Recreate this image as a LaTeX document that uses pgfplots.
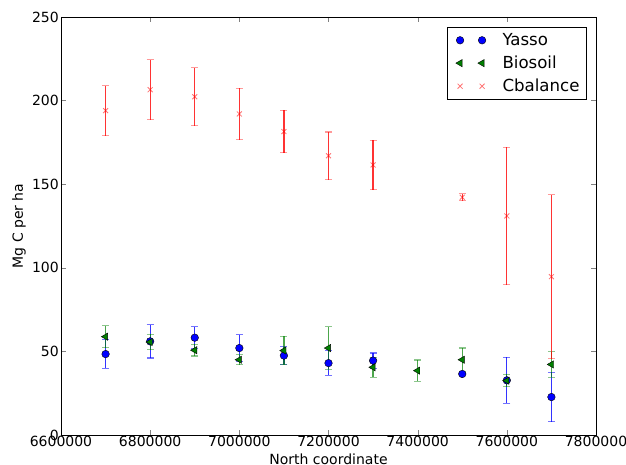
\documentclass[border=0pt]{standalone}
\usepackage{fontspec}
\setmainfont{DejaVu Sans}
\usepackage{pgfplots}
\usepackage{pgfplotstable}
\pgfplotsset{compat=1.18}
\pgfplotstableread{
x y e
6700000 48.4 8.5
6800000 56.0 10
6900000 58.2 6.6
7000000 52.0 8
7100000 47.5 5.3
7200000 43.0 7.4
7300000 44.5 4.5
7500000 36.5 0.5
7600000 32.7 13.7
7700000 22.7 14.8
}\yasso
\pgfplotstableread{
x y e
6700000 58.8 6.6
6800000 55.6 4.6
6900000 50.7 3.5
7000000 45.0 3
7100000 50.5 8.5
7200000 52.0 12.7
7300000 40.5 6
7400000 38.5 6.3
7500000 45.0 7
7600000 32.5 3.7
7700000 42.2 7.6
}\biosoil
\pgfplotstableread{
x y e
6700000 194.0 15
6800000 206.5 18
6900000 202.3 17.3
7000000 192.0 15.4
7100000 181.5 12.7
7200000 167.0 14.2
7300000 161.5 14.7
7500000 142.2 2
7600000 131.0 41
7700000 94.7 49
}\cbal
\definecolor{mgreen}{rgb}{0,0.5,0}
\begin{document}
\begin{tikzpicture}[x=1pt,y=1pt]
\path[use as bounding box] (-61,-30) rectangle (565,435);
\begin{axis}[
 at={(0,0)}, anchor=south west,
 scale only axis, width=535pt, height=418pt,
 xmin=6600000, xmax=7800000, ymin=0, ymax=250,
 xtick={6600000,6800000,7000000,7200000,7400000,7600000,7800000},
 ytick={0,50,100,150,200,250},
 scaled x ticks=false, scaled y ticks=false,
 /pgf/number format/assume math mode=true,
 tick label style={font=\fontsize{14}{16}\selectfont},
 xticklabel style={inner sep=1pt, /pgf/number format/.cd, fixed, 1000 sep={}},
 yticklabel style={inner sep=2pt},
 label style={font=\fontsize{14}{16}\selectfont},
 tick align=inside, tick pos=both,
 major tick length=5pt,
 axis line style={line width=0.9pt},
 xlabel={North coordinate}, ylabel={Mg C per ha},
 xlabel style={inner sep=0pt, yshift=-6pt},
 ylabel style={inner sep=0pt, yshift=4pt},
 legend style={at={(0.983,0.976)}, anchor=north east, draw=black, line width=0.9pt,
   font=\fontsize{16.6}{19}\selectfont, row sep=5pt, inner xsep=5pt, inner ysep=4pt},
 legend cell align=left,
 legend image code/.code={\path (-7pt,0pt) (40pt,0pt); \draw[#1] plot coordinates {(0pt,0pt) (22pt,0pt)};},
 error bars/y dir=both, error bars/y explicit,
]
\addplot[only marks, mark=*, mark size=3.8pt, mark options={fill=blue, draw=black, line width=0.4pt},
  error bars/error bar style={blue, opacity=0.8, line width=1.2pt},
  error bars/error mark options={rotate=90, blue, opacity=0.55, line width=1.2pt, mark size=3.5pt}]
  table[x=x, y=y, y error=e] {\yasso};
\addlegendentry{Yasso}
\addplot[only marks, mark=triangle*, mark size=4.2pt, mark options={rotate=90, fill=mgreen, draw=black, line width=0.4pt},
  error bars/error bar style={mgreen, opacity=0.7, line width=1.2pt},
  error bars/error mark options={rotate=90, mgreen, opacity=0.45, line width=1.2pt, mark size=3.5pt}]
  table[x=x, y=y, y error=e] {\biosoil};
\addlegendentry{Biosoil}
\addplot[only marks, mark=x, mark size=3.5pt, mark options={draw=red, draw opacity=0.55, line width=0.8pt},
  error bars/error bar style={red, opacity=0.8, line width=1.2pt},
  error bars/error mark options={rotate=90, red, opacity=0.4, line width=1.2pt, mark size=3.5pt}]
  table[x=x, y=y, y error=e] {\cbal};
\addlegendentry{Cbalance}
\end{axis}
\end{tikzpicture}
\end{document}
